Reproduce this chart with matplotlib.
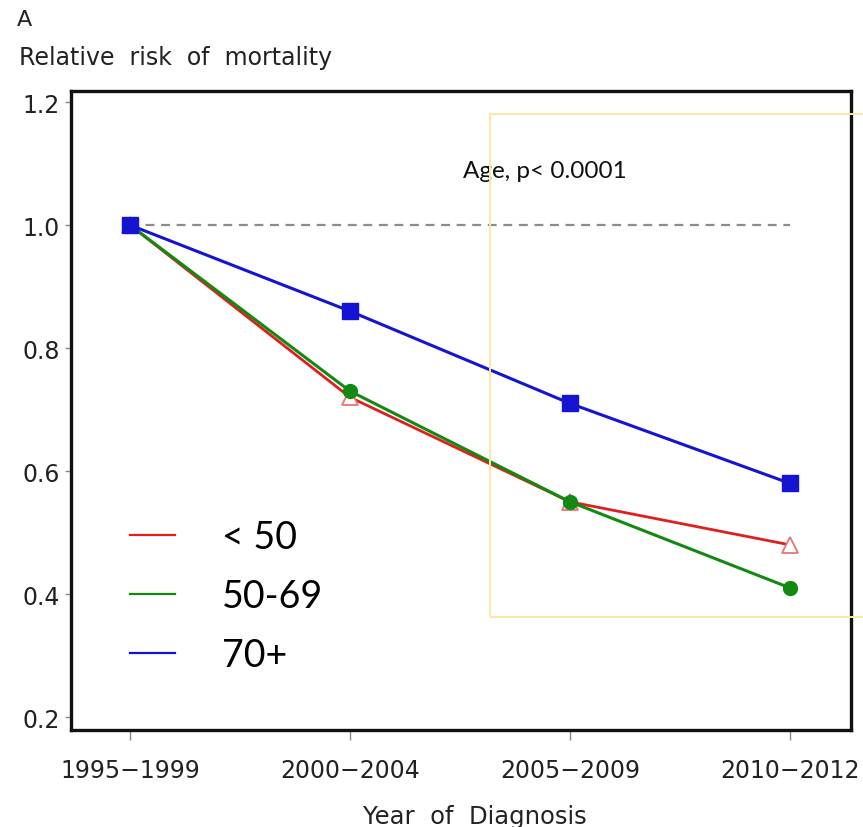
import matplotlib.pyplot as plt
import numpy as np
from matplotlib.lines import Line2D
from matplotlib.patches import Rectangle

periods = ["1995\u22121999", "2000\u22122004", "2005\u22122009", "2010\u22122012"]
rr_under50 = [1.00, 0.72, 0.55, 0.48]
rr_50_69 = [1.00, 0.73, 0.55, 0.41]
rr_70plus = [1.00, 0.86, 0.71, 0.58]
group_labels = ["< 50", "50-69", "70+"]
y_ticks = [0.2, 0.4, 0.6, 0.8, 1.0, 1.2]

W, H = 863, 828
fig = plt.figure(figsize=(W / 100, H / 100), dpi=100)
fig.patch.set_facecolor("white")

# axes box in pixels: left 71, right 851, top 92, bottom 731
ax = fig.add_axes([71 / W, 1 - 731 / H, (851 - 71) / W, (731 - 92) / H])

x = np.arange(len(periods))
c_red, c_green, c_blue = "#E01E1E", "#128A12", "#1414D2"
txt = "#222222"

ax.plot([x[0], x[-1]], [1.0, 1.0], color="#8C8C8C", lw=1.6, ls=(0, (4, 3)), zorder=1)

ax.plot(x, rr_under50, color=c_red, lw=2.0, zorder=2,
        marker="^", ms=12, mfc="white", mec="#E87474", mew=1.3)
ax.plot(x, rr_50_69, color=c_green, lw=2.2, zorder=3,
        marker="o", ms=10, mfc=c_green, mec=c_green)
ax.plot(x, rr_70plus, color=c_blue, lw=2.2, zorder=4,
        marker="s", ms=11, mfc=c_blue, mec=c_blue)

ax.set_xlim(-0.268, 3.277)
ax.set_ylim(0.179, 1.218)
ax.set_xticks(x)
ax.set_xticklabels(periods, family="DejaVu Sans", fontsize=17, color=txt)
ax.set_yticks(y_ticks)
ax.set_yticklabels([f"{v:.1f}" for v in y_ticks], family="DejaVu Sans",
                   fontsize=17, color=txt)
ax.tick_params(axis="x", length=7, width=1.0, color="#888888", pad=13)
ax.tick_params(axis="y", length=4, width=1.0, color="#888888", pad=4)
for s in ax.spines.values():
    s.set_linewidth(2.4)
    s.set_color("#111111")

handles = [Line2D([], [], color=c, lw=1.6) for c in (c_red, c_green, c_blue)]
ax.legend(handles, group_labels, loc="center left",
          bbox_to_anchor=((130 - 71) / 780, (731 - 597) / 639),
          frameon=False, borderpad=0, borderaxespad=0,
          handlelength=1.2, handletextpad=1.25, labelspacing=0.62,
          prop={"family": "Lato", "size": 27})


def ptext(px, py, s, **kw):
    fig.text(px / W, 1 - py / H, s, **kw)


ptext(463, 172, "Age, p< 0.0001", fontsize=17.5, family="Lato",
      ha="left", va="center", color="#111111")
ptext(17, 20, "A", fontsize=16, family="DejaVu Sans", ha="left", va="center", color=txt)
ptext(19, 58, "Relative  risk  of  mortality", fontsize=17, family="DejaVu Sans",
      ha="left", va="center", color=txt)
ptext(475, 817, "Year  of  Diagnosis", fontsize=17.5, family="DejaVu Sans",
      ha="center", va="center", color=txt)

fig.patches.append(Rectangle((490 / W, 1 - 618 / H), (875 - 490) / W, (618 - 115) / H,
                             transform=fig.transFigure, fill=False, edgecolor="#FCE6A6",
                             lw=1.4, zorder=10))

fig.savefig("out.png", dpi=100)
